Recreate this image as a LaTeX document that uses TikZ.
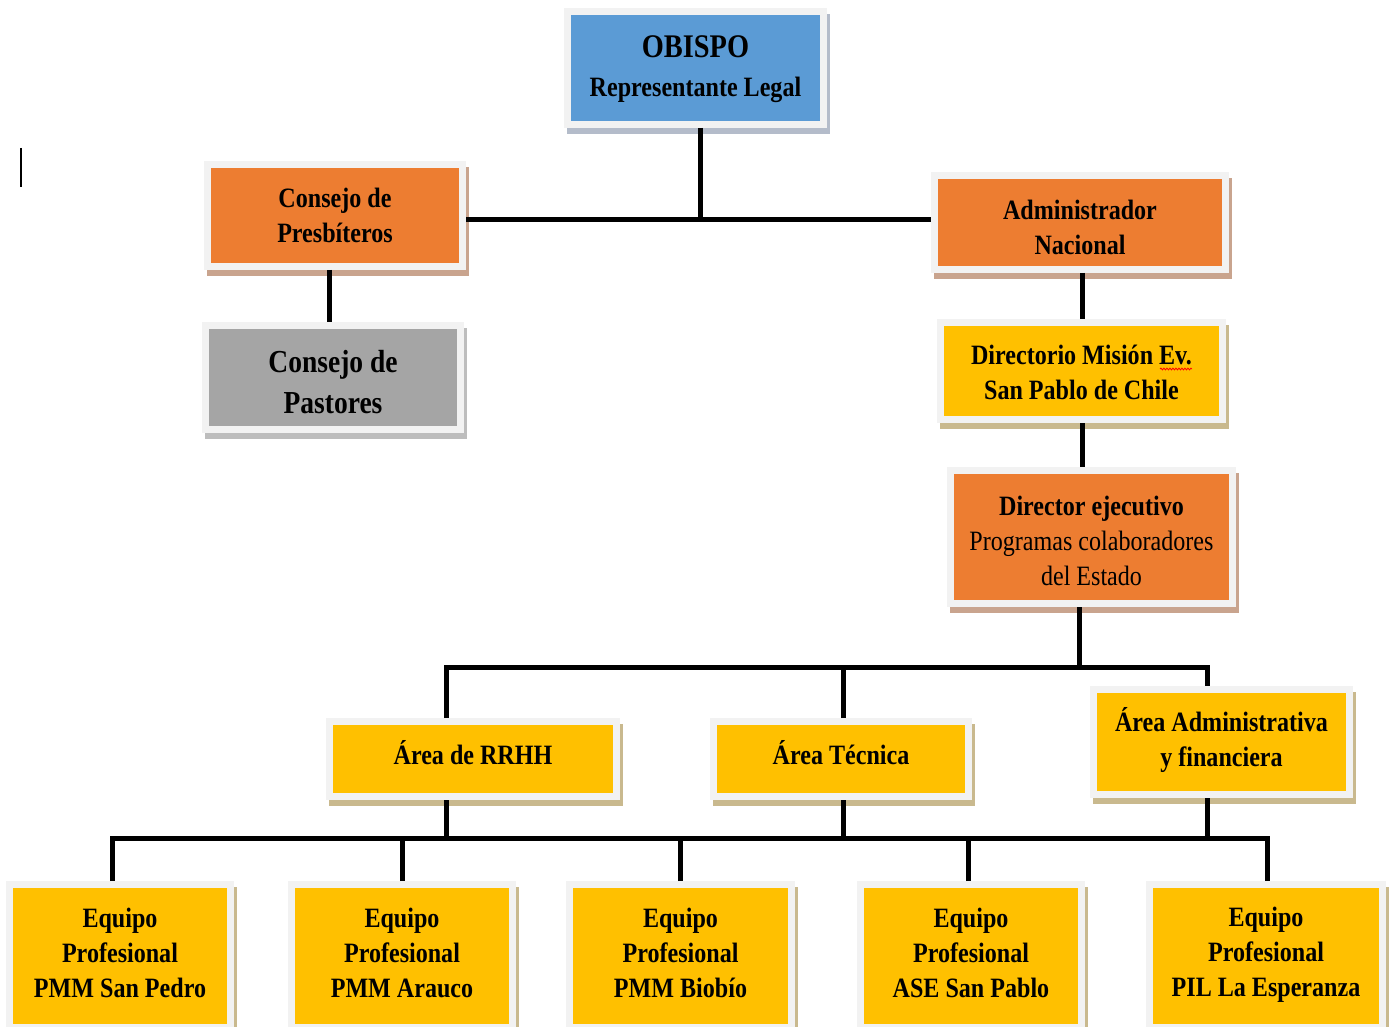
\documentclass[tikz,border=0pt]{standalone}
\usepackage{fontspec}
\setmainfont[FakeStretch=0.86]{Liberation Serif}
\usetikzlibrary{calc,decorations.pathmorphing}
\definecolor{cblue}{HTML}{5B9BD5}
\definecolor{corange}{HTML}{ED7D31}
\definecolor{cyellow}{HTML}{FFC000}
\definecolor{cgray}{HTML}{A5A5A5}
\definecolor{cframe}{HTML}{F2F2F2}
\definecolor{shblue}{HTML}{B4BCCA}
\definecolor{shorange}{HTML}{C9A48E}
\definecolor{shyellow}{HTML}{C9B98E}
\definecolor{shgray}{HTML}{BDBDBD}
\pgfdeclarelayer{bg}
\pgfsetlayers{bg,main}
\tikzset{
  orgbox/.style={draw=cframe, line width=7pt, outer sep=3.5pt, inner sep=0pt},
  boxtext/.style={inner sep=0pt, align=center, text=black,
    font=\fontsize{28}{35}\selectfont\bfseries},
  conn/.style={line width=5pt, black},
}
% #1 name, #2-#5 outer frame (x1,y1,x2,y2), #6 fill, #7 text, #8 text offset downwards
\newcommand{\obox}[8]{%
  \node[orgbox, fill=#6, minimum width={#4-#2-7}, minimum height={#5-#3-7}]
    (#1) at ({(#2+#4)/2},{(#3+#5)/2}) {};
  \node[boxtext] (#1-t) at ([yshift=-#8pt]#1.center) {#7};}
\begin{document}
\begin{tikzpicture}[x=1pt,y=-1pt]
\useasboundingbox (0,0) rectangle (1390,1027);
% boxes
\obox{obispo}{564}{8}{827}{128}{cblue}{{\fontsize{33}{39}\selectfont OBISPO}\\[4pt]Representante Legal}{1.5}
\obox{presb}{204}{161}{466}{270}{corange}{Consejo de\\Presbíteros}{-0.5}
\obox{pastores}{202}{322}{464}{433}{cgray}{{\fontsize{32}{41}\selectfont Consejo de}\\[6pt]{\fontsize{32}{41}\selectfont Pastores}}{5}
\obox{admin}{931}{172}{1229}{273}{corange}{Administrador\\Nacional}{4.5}
\obox{dirmis}{937}{319}{1226}{423}{cyellow}{Directorio Misión Ev.\\San Pablo de Chile}{1.5}
\obox{direj}{947}{467}{1236}{607}{corange}{Director ejecutivo\\{\mdseries Programas colaboradores}\\{\mdseries del Estado}}{3.5}
\obox{rrhh}{326}{718}{620}{800}{cyellow}{Área de RRHH}{-6}
\obox{tec}{710}{718}{972}{800}{cyellow}{Área Técnica}{-6}
\obox{adm}{1090}{686}{1353}{798}{cyellow}{Área Administrativa\\y financiera}{-1.5}
\obox{eqa}{6}{881}{234}{1031}{cyellow}{Equipo\\Profesional\\PMM San Pedro}{-3}
\obox{eqb}{288}{881}{516}{1031}{cyellow}{Equipo\\Profesional\\PMM Arauco}{-3}
\obox{eqc}{566}{881}{795}{1031}{cyellow}{Equipo\\Profesional\\PMM Biobío}{-3.5}
\obox{eqd}{857}{881}{1085}{1031}{cyellow}{Equipo\\Profesional\\ASE San Pablo}{-3.5}
\obox{eqe}{1146}{881}{1386}{1031}{cyellow}{Equipo\\Profesional\\PIL La Esperanza}{-1}
% shadows
\begin{pgfonlayer}{bg}
\foreach \n/\c in {obispo/shblue, presb/shorange, pastores/shgray, admin/shorange,
  dirmis/shyellow, direj/shorange, rrhh/shyellow, tec/shyellow, adm/shyellow,
  eqa/shyellow, eqb/shyellow, eqc/shyellow, eqd/shyellow, eqe/shyellow}
  \fill[\c] ($(\n.south west)+(3,6)$) rectangle ($(\n.north east)+(3,6)$);
\end{pgfonlayer}
% junction coordinates
\coordinate (jtop) at (700,220);
\coordinate (jmid) at (1079,667);
\coordinate (jbot) at (700,838);
% connectors
\draw[conn] ([xshift=4.5pt]obispo.south) -- (jtop);
\draw[conn] (presb.east |- jtop) -- (admin.west |- jtop);
\draw[conn] ([xshift=-6pt]presb.south) -- ([xshift=-4pt]pastores.north);
\draw[conn] ([xshift=2pt]admin.south) -- ([xshift=2pt]admin.south |- dirmis.north);
\draw[conn] ([xshift=1pt]dirmis.south) -- ([xshift=1pt]dirmis.south |- direj.north);
\draw[conn] ([xshift=-12.5pt]direj.south) -- (jmid);
\draw[conn] ([xshift=-27pt]rrhh.north) |- (jmid) -| ([xshift=-14.5pt]adm.north);
\draw[conn] ([xshift=2pt]tec.north) -- ([xshift=2pt]tec.north |- jmid);
\draw[conn] ([xshift=-8pt]eqa.north) |- (jbot) -| ([xshift=1pt]eqe.north);
\draw[conn] ([xshift=-27pt]rrhh.south) -- ([xshift=-27pt]rrhh.south |- jbot);
\draw[conn] ([xshift=2pt]tec.south) -- ([xshift=2pt]tec.south |- jbot);
\draw[conn] ([xshift=-14.5pt]adm.south) -- ([xshift=-14.5pt]adm.south |- jbot);
\draw[conn] (eqb.north) -- (eqb.north |- jbot);
\draw[conn] (eqc.north) -- (eqc.north |- jbot);
\draw[conn] ([xshift=-3pt]eqd.north) -- ([xshift=-3pt]eqd.north |- jbot);
% stray cursor mark and spell-check squiggle
\coordinate (cura) at (21,148);
\coordinate (curb) at (21,187);
\draw[line width=2pt, black] (cura) -- (curb);
\coordinate (sqa) at (1160,369);
\coordinate (sqb) at (1192,369);
\draw[red, line width=0.8pt, decorate, decoration={snake, amplitude=0.9pt, segment length=3pt}] (sqa) -- (sqb);
\end{tikzpicture}
\end{document}
